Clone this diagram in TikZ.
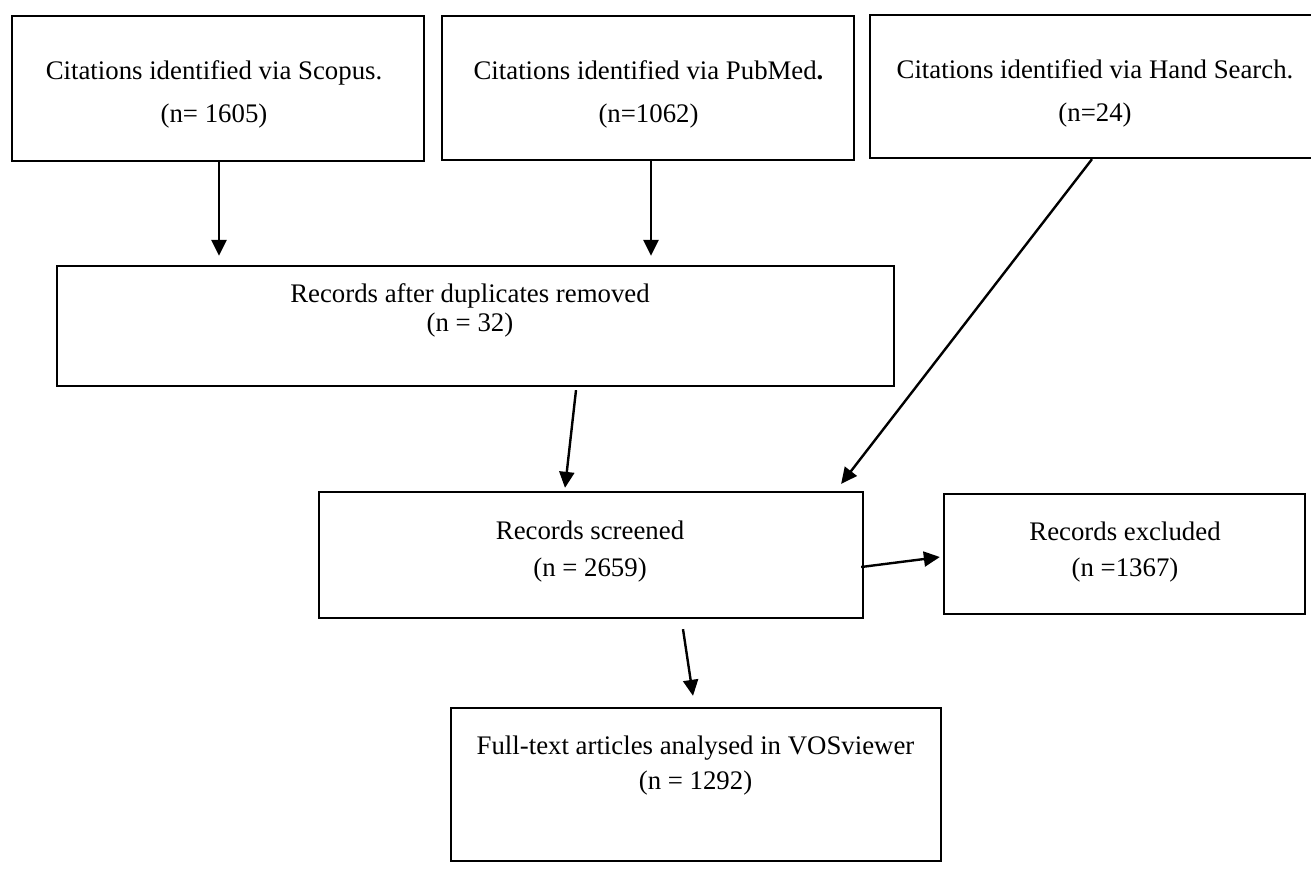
\documentclass[tikz,border=0pt]{standalone}
\usepackage{fontspec}
\setmainfont{Liberation Serif}
\usetikzlibrary{arrows.meta}
\begin{document}
\begin{tikzpicture}[x=1pt,y=-1pt,
  box/.style={draw=black, line width=2.3pt, rectangle, inner sep=0pt, anchor=center},
  txt/.style={anchor=base, inner sep=0pt, font=\fontsize{26.8}{32}\selectfont},
  arr/.style={line width=2.4pt, -{Triangle[length=16pt,width=15pt]}}]
\useasboundingbox (0,0) rectangle (1311,868);
\fill[white] (0,0) rectangle (1311,868);
\clip (0,0) rectangle (1311,868);
% boxes
\node[box, minimum width=412pt, minimum height=145pt] (A) at (218,88.5) {};
\node[box, minimum width=412pt, minimum height=144pt] (B) at (648,88) {};
\node[box, minimum width=450pt, minimum height=143pt] (C) at (1095,86.5) {};
\node[box, minimum width=837pt, minimum height=120pt] (D) at (475.5,326) {};
\node[box, minimum width=544pt, minimum height=126pt] (E) at (591,555) {};
\node[box, minimum width=361pt, minimum height=120pt] (F) at (1124.5,554) {};
\node[box, minimum width=490pt, minimum height=153pt] (G) at (696,784.5) {};
% texts
\node[txt] (a1) at (214,79) {Citations identified via Scopus.};
\node[txt] (a2) at (214,122) {(n= 1605)};
\node[txt] (b1) at (648.5,79) {Citations identified via PubMed{\bfseries.}};
\node[txt] (b2) at (648.5,122) {(n=1062)};
\node[txt] (c1) at (1095,78) {Citations identified via Hand Search.};
\node[txt] (c2) at (1095,121) {(n=24)};
\node[txt] (d1) at (470,302) {Records after duplicates removed};
\node[txt] (d2) at (470,331) {(n = 32)};
\node[txt] (e1) at (590,539) {Records screened};
\node[txt] (e2) at (590,576) {(n = 2659)};
\node[txt] (f1) at (1125,540) {Records excluded};
\node[txt] (f2) at (1125,576) {(n =1367)};
\node[txt] (g1) at (695.5,754) {Full-text articles analysed in VOSviewer};
\node[txt] (g2) at (695.5,789) {(n = 1292)};
% connectors
\draw[arr, shorten >=9pt] ([xshift=1pt]A.south) -- ([xshift=1pt]A.south |- D.north);
\draw[arr, shorten >=9pt] ([xshift=3pt]B.south) -- ([xshift=3pt]B.south |- D.north);
\draw[arr] ([xshift=-3pt]C.south) -- ([xshift=-23pt,yshift=7pt]E.north east);
\draw[arr] ([xshift=100.5pt,yshift=-3pt]D.south) -- ([xshift=-26pt,yshift=3pt]E.north);
\draw[arr] ([xshift=-3pt,yshift=-12pt]E.east) -- ([xshift=-3pt,yshift=-3pt]F.west);
\draw[arr] ([xshift=92pt,yshift=-10pt]E.south) -- ([xshift=-3pt,yshift=11pt]G.north);
\end{tikzpicture}
\end{document}
